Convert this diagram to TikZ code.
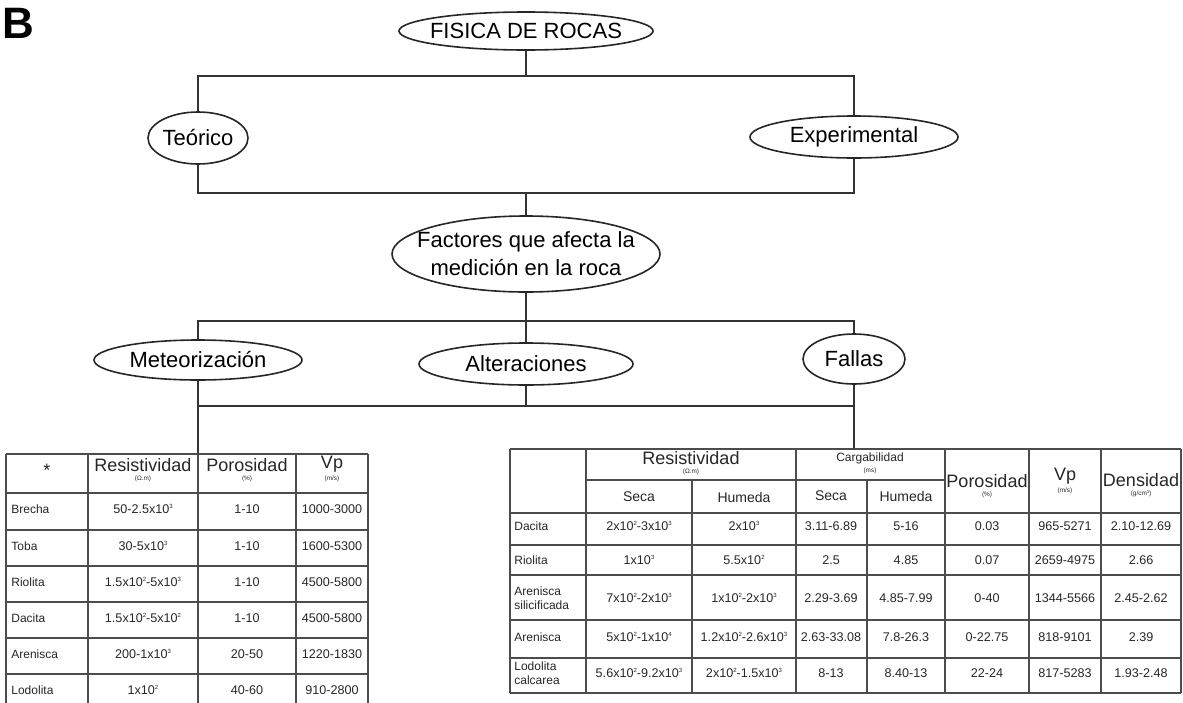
\documentclass[tikz,border=0pt]{standalone}
\usepackage{fontspec}
\setmainfont{Liberation Sans}
\usetikzlibrary{positioning,shapes.geometric}
\newcommand{\tenexp}[1]{x10\raisebox{0.75ex}{\fontsize{3}{3}\selectfont#1}}

\begin{document}
\begin{tikzpicture}[
  x=0.5pt, y=-0.5pt,
  oval/.style={ellipse, draw=black!85, line width=0.8pt, inner xsep=-12pt, inner ysep=0pt, align=center, font=\fontsize{11}{14}\selectfont},
  link/.style={line width=0.8pt, black!80},
  gridline/.style={line width=0.8pt, black!70},
  head/.style={inner sep=0pt, font=\fontsize{9}{10}\selectfont, text=black!85},
  subhead/.style={inner sep=0pt, font=\fontsize{7}{8}\selectfont, text=black!85},
  unit/.style={inner sep=0pt, font=\fontsize{3.2}{4}\selectfont, text=black!85},
  cell/.style={inner sep=0pt, font=\fontsize{6.3}{7}\selectfont, text=black!85},
  rowname/.style={cell, anchor=west, align=left, font=\fontsize{6}{6.8}\selectfont}
]
\clip (0,0) rectangle (1183,702);

% Title
\node[font=\fontsize{22}{24}\selectfont\bfseries, anchor=north west, inner sep=0pt] (panel) at (2,8) {B};
\node[oval, minimum width=127pt, minimum height=19pt] (fisica) at (526,31) {FISICA DE ROCAS};

% First level
\node[oval, on grid, below left=53.5pt and 164pt of fisica, minimum width=50pt, minimum height=26pt] (teorico) {Teórico};
\node[oval, on grid, below right=53pt and 164pt of fisica, minimum width=104pt, minimum height=21pt] (experimental) {Experimental};
\node[oval, on grid, below=111.5pt of fisica, minimum width=134pt, minimum height=38pt] (factores) {Factores que afecta la\\medición en la roca};

% Second level
\node[oval, on grid, below left=53pt and 164pt of factores, minimum width=104pt, minimum height=20pt] (meteorizacion) {Meteorización};
\node[oval, on grid, below=55pt of factores, minimum width=107pt, minimum height=21pt] (alteraciones) {Alteraciones};
\node[oval, on grid, below right=52.5pt and 164pt of factores, minimum width=51pt, minimum height=25pt] (fallas) {Fallas};

% Bus lines
\coordinate (bus1) at (526,76);
\coordinate (bus2) at (526,193);
\coordinate (bus3) at (526,321);
\coordinate (bus4) at (526,406);
\coordinate (ltop) at (198,454);
\coordinate (rtop) at (854,449);

\draw[link] (fisica) -- (bus1);
\draw[link] (teorico) |- (bus1) -| (experimental);
\draw[link] (teorico) |- (bus2) -| (experimental);
\draw[link] (bus2) -- (factores);
\draw[link] (factores) -- (bus3) -- (alteraciones);
\draw[link] (meteorizacion) |- (bus3) -| (fallas);
\draw[link] (meteorizacion) |- (bus4) -| (fallas);
\draw[link] (alteraciones) -- (bus4);
\draw[link] (meteorizacion) -- (ltop);
\draw[link] (fallas) -- (rtop);

% Left table
\foreach \y in {454,493,530,566,602,638,674,711}
  \draw[gridline] (6,\y) -- (368,\y);
\foreach \x in {6,88,198,296,368}
  \draw[gridline] (\x,454) -- (\x,711);

\node[head] (lstar) at (47,470) {*};
\node[head] (lres) at (143,465) {Resistividad};
\node[unit, below=1.5pt of lres] (lresu) {(Ω.m)};
\node[head] (lpor) at (247,465) {Porosidad};
\node[unit, below=1.5pt of lpor] (lporu) {(\%)};
\node[head] (lvp) at (332,464) {Vp};
\node[unit, below=1.5pt of lvp] (lvpu) {(m/s)};

\foreach \y/\rock/\res/\por/\vp [count=\r] in {
  509/Brecha/{50-2.5\tenexp{3}}/1-10/1000-3000,
  546/Toba/{30-5\tenexp{3}}/1-10/1600-5300,
  582/Riolita/{1.5\tenexp{2}-5\tenexp{3}}/1-10/4500-5800,
  618/Dacita/{1.5\tenexp{2}-5\tenexp{2}}/1-10/4500-5800,
  654/Arenisca/{200-1\tenexp{3}}/20-50/1220-1830,
  690/Lodolita/{1\tenexp{2}}/40-60/910-2800}
{
  \node[rowname] (lname-\r) at (11,\y) {\rock};
  \node[cell] (lres-\r) at (143,\y) {\res};
  \node[cell] (lpor-\r) at (247,\y) {\por};
  \node[cell] (lvp-\r) at (332,\y) {\vp};
}

% Right table
\foreach \y in {449,513,545,575,620,658,693}
  \draw[gridline] (510,\y) -- (1181,\y);
\draw[gridline] (586,480) -- (945,480);
\foreach \x in {510,586,796,945,1029,1101,1181}
  \draw[gridline] (\x,449) -- (\x,693);
\foreach \x in {692,867}
  \draw[gridline] (\x,480) -- (\x,693);

\node[head] (rres) at (691,458) {Resistividad};
\node[unit, below=1.5pt of rres] (rresu) {(Ω.m)};
\node[subhead, font=\fontsize{6}{7}\selectfont] (rcar) at (870,458) {Cargabilidad};
\node[unit, below=1.5pt of rcar] (rcaru) {(ms)};
\node[subhead] (rsecres) at (639,497) {Seca};
\node[subhead] (rhumres) at (744,497) {Humeda};
\node[subhead] (rseccar) at (831,496) {Seca};
\node[subhead] (rhumcar) at (906,496) {Humeda};
\node[head] (rpor) at (987,481) {Porosidad};
\node[unit, below=1.5pt of rpor] (rporu) {(\%)};
\node[head] (rvp) at (1065,476) {Vp};
\node[unit, below=1.5pt of rvp] (rvpu) {(m/s)};
\node[head] (rden) at (1141,480) {Densidad};
\node[unit, below=1.5pt of rden] (rdenu) {(g/cm\raisebox{0.6ex}{\fontsize{2}{2}\selectfont 3})};

\foreach \y/\rock/\rsec/\rhum/\csec/\chum/\por/\vp/\den [count=\r] in {
  526/Dacita/{2\tenexp{2}-3\tenexp{3}}/{2\tenexp{3}}/3.11-6.89/5-16/0.03/965-5271/2.10-12.69,
  560/Riolita/{1\tenexp{3}}/{5.5\tenexp{2}}/2.5/4.85/0.07/2659-4975/2.66,
  598/{Arenisca\\silicificada}/{7\tenexp{2}-2\tenexp{3}}/{1\tenexp{2}-2\tenexp{3}}/2.29-3.69/4.85-7.99/0-40/1344-5566/2.45-2.62,
  637/Arenisca/{5\tenexp{2}-1\tenexp{4}}/{1.2\tenexp{2}-2.6\tenexp{3}}/2.63-33.08/7.8-26.3/0-22.75/818-9101/2.39,
  673/{Lodolita\\calcarea}/{5.6\tenexp{2}-9.2\tenexp{3}}/{2\tenexp{2}-1.5\tenexp{3}}/8-13/8.40-13/22-24/817-5283/1.93-2.48}
{
  \node[rowname] (rname-\r) at (514,\y) {\rock};
  \node[cell] (rsec-\r) at (639,\y) {\rsec};
  \node[cell] (rhum-\r) at (744,\y) {\rhum};
  \node[cell] (csec-\r) at (831,\y) {\csec};
  \node[cell] (chum-\r) at (906,\y) {\chum};
  \node[cell] (rpor-\r) at (987,\y) {\por};
  \node[cell] (rvp-\r) at (1065,\y) {\vp};
  \node[cell] (rden-\r) at (1141,\y) {\den};
}

\end{tikzpicture}
\end{document}
